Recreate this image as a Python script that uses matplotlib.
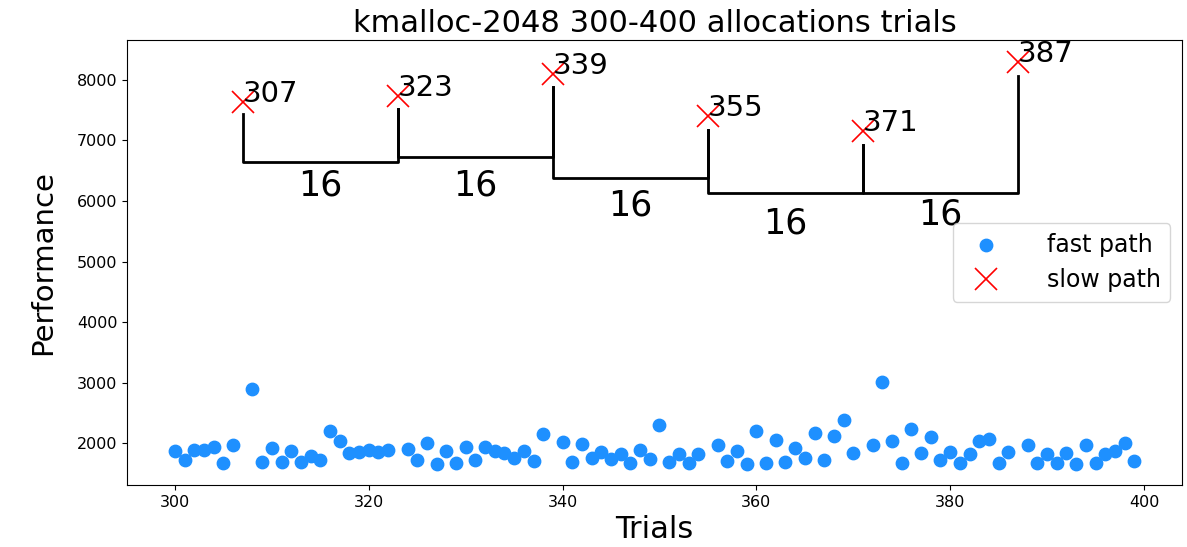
import numpy as np
import matplotlib
matplotlib.use('Agg')
import matplotlib.pyplot as plt

# ----------- data ----------- #
fast_x = [300, 301, 302, 303, 304, 305, 306, 308, 309, 310, 311, 312, 313, 314, 315, 316, 317, 318, 319,
          320, 321, 322, 324, 325, 326, 327, 328, 329, 330, 331, 332, 333, 334, 335, 336, 337, 338,
          340, 341, 342, 343, 344, 345, 346, 347, 348, 349, 350, 351, 352, 353, 354,
          356, 357, 358, 359, 360, 361, 362, 363, 364, 365, 366, 367, 368, 369, 370,
          372, 373, 374, 375, 376, 377, 378, 379, 380, 381, 382, 383, 384, 385, 386,
          388, 389, 390, 391, 392, 393, 394, 395, 396, 397, 398, 399]
fast_y = [1873, 1719, 1884, 1895, 1929, 1675, 1962, 2892, 1686, 1923, 1697, 1879, 1697, 1796, 1719, 2204, 2033, 1840, 1862,
          1884, 1851, 1895, 1912, 1719, 2011, 1653, 1868, 1675, 1940, 1730, 1929, 1873, 1840, 1763, 1873, 1708, 2149,
          2017, 1697, 1994, 1763, 1851, 1741, 1829, 1680, 1884, 1741, 2298, 1691, 1813, 1675, 1829,
          1972, 1708, 1879, 1664, 2193, 1675, 2050, 1691, 1917, 1747, 2160, 1730, 2116, 2380, 1835,
          1962, 3008, 2033, 1680, 2237, 1840, 2105, 1724, 1862, 1680, 1813, 2028, 2077, 1680, 1851,
          1962, 1669, 1813, 1669, 1840, 1664, 1962, 1669, 1818, 1879, 2005, 1708]

slow_x = [307, 323, 339, 355, 371, 387]
slow_y = [7631, 7736, 8094, 7405, 7157, 8302]

# bracket geometry
arm_top = [7438, 7515, 7889, 7174, 6920, 8066]
bar_level = [6640, 6722, 6385, 6137, 6137]
gap_label_y = [6083, 6083, 5769, 5466, 5615]

# ----------- plot ----------- #
fig = plt.figure(figsize=(11.87, 5.47), dpi=100)
ax = fig.add_axes([0.107, 0.113, 0.889, 0.814])

ax.scatter(fast_x, fast_y, s=80, color='dodgerblue', label='fast path')
ax.plot(slow_x, slow_y, 'x', color='red', markersize=16, markeredgewidth=1.2,
        linestyle='none', label='slow path')

for x, y in zip(slow_x, slow_y):
    ax.text(x, y, str(x), fontsize=21)

for i in range(len(slow_x) - 1):
    a, b = slow_x[i], slow_x[i + 1]
    ax.plot([a, a, b, b], [arm_top[i], bar_level[i], bar_level[i], arm_top[i + 1]],
            color='black', linewidth=2)
    ax.text((a + b) / 2, gap_label_y[i], str(b - a), fontsize=25, ha='center')

ax.set_xlim(295.05, 403.95)
ax.set_ylim(1306, 8661)
ax.tick_params(axis='both', labelsize=11.5)
ax.set_title('kmalloc-2048 300-400 allocations trials', fontsize=22)
ax.set_xlabel('Trials', fontsize=22)
ax.set_ylabel('Performance', fontsize=21, labelpad=14)
ax.legend(loc='center right', fontsize=17, handletextpad=1.6)

fig.savefig('out.png', dpi=100)
